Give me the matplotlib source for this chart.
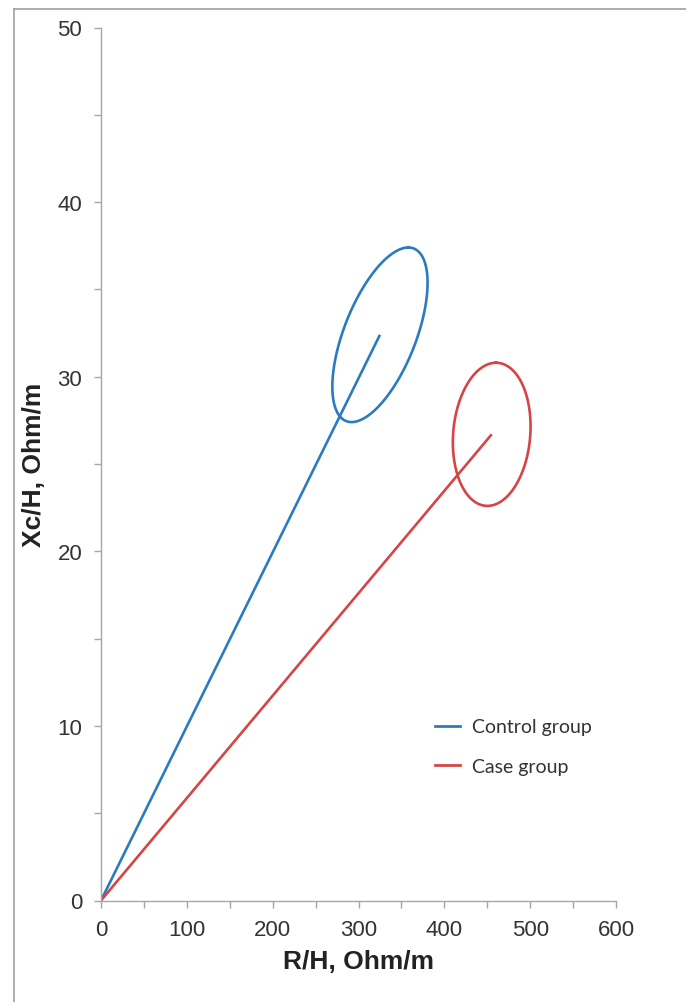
import numpy as np
import matplotlib
matplotlib.use("Agg")
import matplotlib.pyplot as plt
from matplotlib.ticker import MultipleLocator
from matplotlib.lines import Line2D

# Data
groups = ["Control group", "Case group"]
colors = ["#2C7BC0", "#D64545"]
# vector end points (R/H, Xc/H)
end_r = [325.0, 455.2]
end_xc = [32.4, 26.7]
# confidence ellipse shape: x = cx + A cos t + B sin t ; y = cy + C cos t
ell_A = [33.0, 5.0]
ell_B = [44.6, 45.0]
ell_C = [5.0, 4.1]

x_ticks = [0, 100, 200, 300, 400, 500, 600]
y_ticks = [0, 10, 20, 30, 40, 50]

fig = plt.figure(figsize=(6.86, 10.03), dpi=100)
ax = fig.add_axes([101/686, 1-901.5/1003, 515/686, 873/1003])

t = np.linspace(0, 2*np.pi, 400)
for i in range(2):
    ax.plot([0, end_r[i]], [0, end_xc[i]], color=colors[i], lw=1.9, solid_capstyle='butt')
    ex = end_r[i] + ell_A[i]*np.cos(t) + ell_B[i]*np.sin(t)
    ey = end_xc[i] + ell_C[i]*np.cos(t)
    ax.plot(ex, ey, color=colors[i], lw=1.9)

ax.set_xlim(0, 600)
ax.set_ylim(0, 50)
ax.set_xticks(x_ticks)
ax.set_yticks(y_ticks)
ax.xaxis.set_minor_locator(MultipleLocator(50))
ax.yaxis.set_minor_locator(MultipleLocator(5))

for s in ["top", "right"]:
    ax.spines[s].set_visible(False)
for s in ["left", "bottom"]:
    ax.spines[s].set_color("#A6A6A6")
    ax.spines[s].set_linewidth(1.0)

ax.tick_params(which="both", direction="out", length=5, width=1.0, color="#A6A6A6")
ax.tick_params(which="major", labelsize=16, labelcolor="#333333", pad=8.5)
for lab in ax.get_xticklabels() + ax.get_yticklabels():
    lab.set_family(["Liberation Sans", "DejaVu Sans"])

ax.set_xlabel("R/H, Ohm/m", fontsize=19, fontweight="bold", family=["Liberation Sans", "DejaVu Sans"], color="#222222", labelpad=6)
ax.set_ylabel("Xc/H, Ohm/m", fontsize=19, fontweight="bold", family=["Liberation Sans", "DejaVu Sans"], color="#222222", labelpad=8)

handles = [Line2D([0], [0], color=colors[i], lw=2) for i in range(2)]
leg = ax.legend(handles, groups, loc="center left", bbox_to_anchor=(0.6485, 0.1764),
                frameon=False, prop={"family": ["Lato", "DejaVu Sans"], "size": 14},
                handlelength=1.29, handletextpad=0.62, labelspacing=1.15,
                borderpad=0, borderaxespad=0)
for txt in leg.get_texts():
    txt.set_color("#333333")

# screenshot frame lines (top and left)
fig.add_artist(Line2D([14/686, 14/686], [0, 1-10/1003], color="#A0A0A0", lw=1.2, transform=fig.transFigure))
fig.add_artist(Line2D([14/686, 1], [1-10/1003, 1-10/1003], color="#A0A0A0", lw=1.2, transform=fig.transFigure))

fig.savefig("out.png", dpi=100, facecolor="white")
